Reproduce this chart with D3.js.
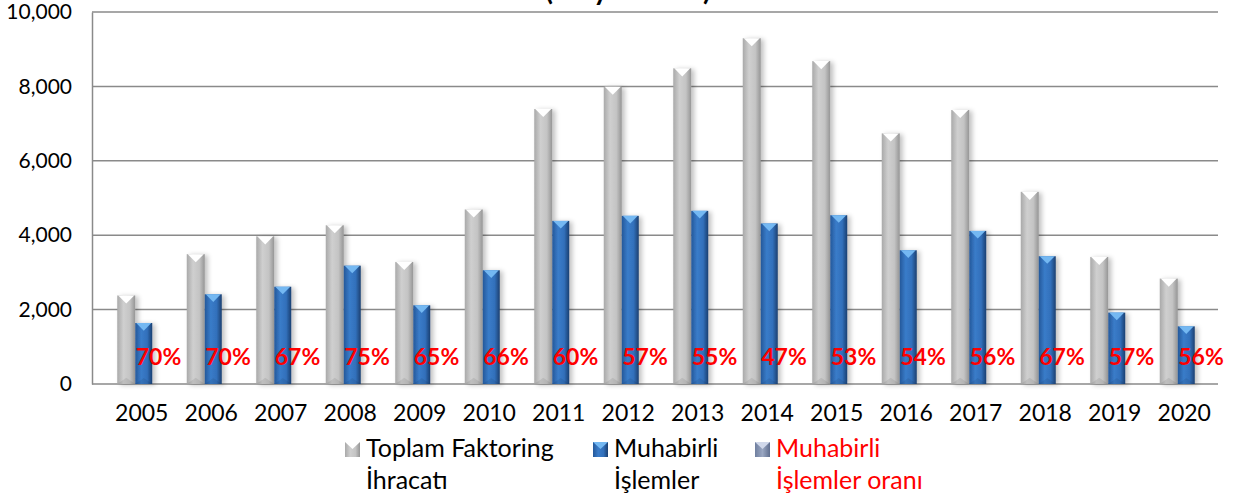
<!DOCTYPE html>
<html>
<head>
<meta charset="utf-8">
<script src="https://cdn.jsdelivr.net/npm/d3@7"></script>
<style>
  body { margin: 0; background: #fff; }
  svg { display: block; font-family: Lato, "Open Sans", sans-serif; }
</style>
</head>
<body>
<div id="chart"></div>
<script>
// data (Milyon USD)
var years = ["2005", "2006", "2007", "2008", "2009", "2010", "2011", "2012",
             "2013", "2014", "2015", "2016", "2017", "2018", "2019", "2020"];
var toplam = [2380, 3490, 3970, 4267, 3281, 4692, 7393, 7992,
              8487, 9295, 8680, 6737, 7365, 5166, 3416, 2834];
var muhabirli = [1640, 2412, 2615, 3181, 2116, 3058, 4385, 4520,
                 4654, 4315, 4537, 3596, 4116, 3435, 1919, 1550];
var oran = [70, 70, 67, 75, 65, 66, 60, 57, 55, 47, 53, 54, 56, 67, 57, 56];
var yTicks = [0, 2000, 4000, 6000, 8000, 10000];
var legendItems = [
  { lines: ["Toplam Faktoring", "İhracatı"], kind: "grey", color: "#000" },
  { lines: ["Muhabirli", "İşlemler"], kind: "blue", color: "#000" },
  { lines: ["Muhabirli", "İşlemler oranı"], kind: "mix", color: "#ff0000" }
];

var width = 1239, height = 499;
var plotLeft = 92, plotRight = 1218, plotTop = 12, plotBottom = 384;

var svg = d3.select("#chart").append("svg")
    .attr("width", width)
    .attr("height", height);

var defs = svg.append("defs");

function hGrad(id, stops) {
  var g = defs.append("linearGradient").attr("id", id)
      .attr("x1", "0%").attr("x2", "100%").attr("y1", "0%").attr("y2", "0%");
  stops.forEach(function (s) {
    g.append("stop").attr("offset", s[0]).attr("stop-color", s[1]);
  });
}
hGrad("greyGrad", [["0%", "#a9a9a9"], ["35%", "#cfcfcf"], ["70%", "#c4c4c4"], ["100%", "#959595"]]);
hGrad("blueGrad", [["0%", "#24589a"], ["35%", "#3a7cc9"], ["70%", "#3270bb"], ["100%", "#1b3f70"]]);
hGrad("mixGrad", [["0%", "#6f7f9f"], ["50%", "#9aa7c2"], ["100%", "#5f6e8e"]]);

var shadow = defs.append("filter").attr("id", "shadow")
    .attr("x", "-50%").attr("y", "-10%").attr("width", "200%").attr("height", "120%");
shadow.append("feGaussianBlur").attr("in", "SourceAlpha").attr("stdDeviation", 2.5);
shadow.append("feOffset").attr("dx", 3).attr("dy", 1).attr("result", "b");
shadow.append("feComponentTransfer").append("feFuncA").attr("type", "linear").attr("slope", 0.25);
var merge = shadow.append("feMerge");
merge.append("feMergeNode");
merge.append("feMergeNode").attr("in", "SourceGraphic");

// scales
var x = d3.scaleBand()
    .domain(years)
    .range([100, 1212])
    .padding(0);

var y = d3.scaleLinear()
    .domain([0, 10000])
    .range([plotBottom, plotTop]);

// title (only the lower line is inside the picture)
svg.append("text")
    .attr("x", 628)
    .attr("y", 0)
    .attr("text-anchor", "middle")
    .style("font-size", "28px")
    .style("font-weight", "bold")
    .text("(Milyon USD)");

// gridlines
svg.append("g")
    .selectAll("line")
    .data(yTicks)
    .enter().append("line")
    .attr("x1", plotLeft)
    .attr("x2", plotRight)
    .attr("y1", function (d) { return y(d); })
    .attr("y2", function (d) { return y(d); })
    .attr("stroke", "#8a8a8a")
    .attr("stroke-width", 1.5);

// y axis
var yAxis = svg.append("g")
    .attr("transform", "translate(" + plotLeft + ",0)")
    .call(d3.axisLeft(y).tickValues(yTicks).tickSize(0).tickPadding(20)
      .tickFormat(d3.format(",")));
yAxis.select(".domain").attr("stroke", "#8a8a8a").attr("stroke-width", 1.5);
yAxis.selectAll("text")
    .style("font-size", "21px")
    .style("font-family", "Lato, sans-serif")
    .attr("fill", "#000");

// x axis labels
var xAxis = svg.append("g")
    .attr("transform", "translate(7," + plotBottom + ")")
    .call(d3.axisBottom(x).tickSize(0).tickPadding(21));
xAxis.select(".domain").remove();
xAxis.selectAll("text")
    .style("font-size", "23px")
    .style("font-family", "Lato, sans-serif")
    .attr("fill", "#000");

// bars
function cx(d) { return x(d) + x.bandwidth() / 2; }

function drawBars(values, offset, w, fill, capColor) {
  var g = svg.append("g");
  var bars = g.selectAll("g")
      .data(years)
      .enter().append("g");
  bars.append("rect")
      .attr("x", function (d) { return cx(d) + offset; })
      .attr("y", function (d, i) { return y(values[i]); })
      .attr("width", w)
      .attr("height", function (d, i) { return y(0) - y(values[i]); })
      .attr("fill", fill)
      .attr("filter", "url(#shadow)");
  // bevelled top: inverted triangle
  bars.append("path")
      .attr("d", function (d, i) {
        var x0 = cx(d) + offset, y0 = y(values[i]);
        return "M" + (x0 + 1) + "," + y0 + "L" + (x0 + w - 1) + "," + y0 +
               "L" + (x0 + w / 2) + "," + (y0 + w * 0.45) + "Z";
      })
      .attr("fill", capColor);
  // bevelled bottom
  bars.append("path")
      .attr("d", function (d) {
        var x0 = cx(d) + offset, y0 = y(0);
        return "M" + x0 + "," + y0 + "L" + (x0 + w) + "," + y0 +
               "L" + (x0 + w / 2) + "," + (y0 - w * 0.35) + "Z";
      })
      .attr("fill", "#000")
      .attr("opacity", 0.08);
}

drawBars(toplam, -17.5, 18, "url(#greyGrad)", "#ffffff");
drawBars(muhabirli, 0.5, 17, "url(#blueGrad)", "#74b8f2");

// ratio labels
svg.append("g")
    .selectAll("text")
    .data(years)
    .enter().append("text")
    .attr("x", function (d) { return cx(d) + 1; })
    .attr("y", 365)
    .attr("fill", "#ff0000")
    .style("font-size", "23px")
    .style("font-weight", "bold")
    .text(function (d, i) { return oran[i] + "%"; });

// legend
var legendX = [345, 593, 755];
var legend = svg.append("g");
legendItems.forEach(function (item, i) {
  var lx = legendX[i];
  var fill = item.kind === "grey" ? "url(#greyGrad)" : item.kind === "blue" ? "url(#blueGrad)" : "url(#mixGrad)";
  var cap = item.kind === "grey" ? "#ffffff" : item.kind === "blue" ? "#74b8f2" : "#d0d8ea";
  legend.append("rect")
      .attr("x", lx).attr("y", 442)
      .attr("width", 15).attr("height", 15)
      .attr("fill", fill);
  legend.append("path")
      .attr("d", "M" + lx + ",442L" + (lx + 15) + ",442L" + (lx + 7.5) + ",449Z")
      .attr("fill", cap);
  item.lines.forEach(function (line, j) {
    legend.append("text")
        .attr("x", lx + 21)
        .attr("y", 457 + j * 32)
        .attr("fill", item.color)
        .style("font-size", "25px")
        .text(line);
  });
});
</script>
</body>
</html>
